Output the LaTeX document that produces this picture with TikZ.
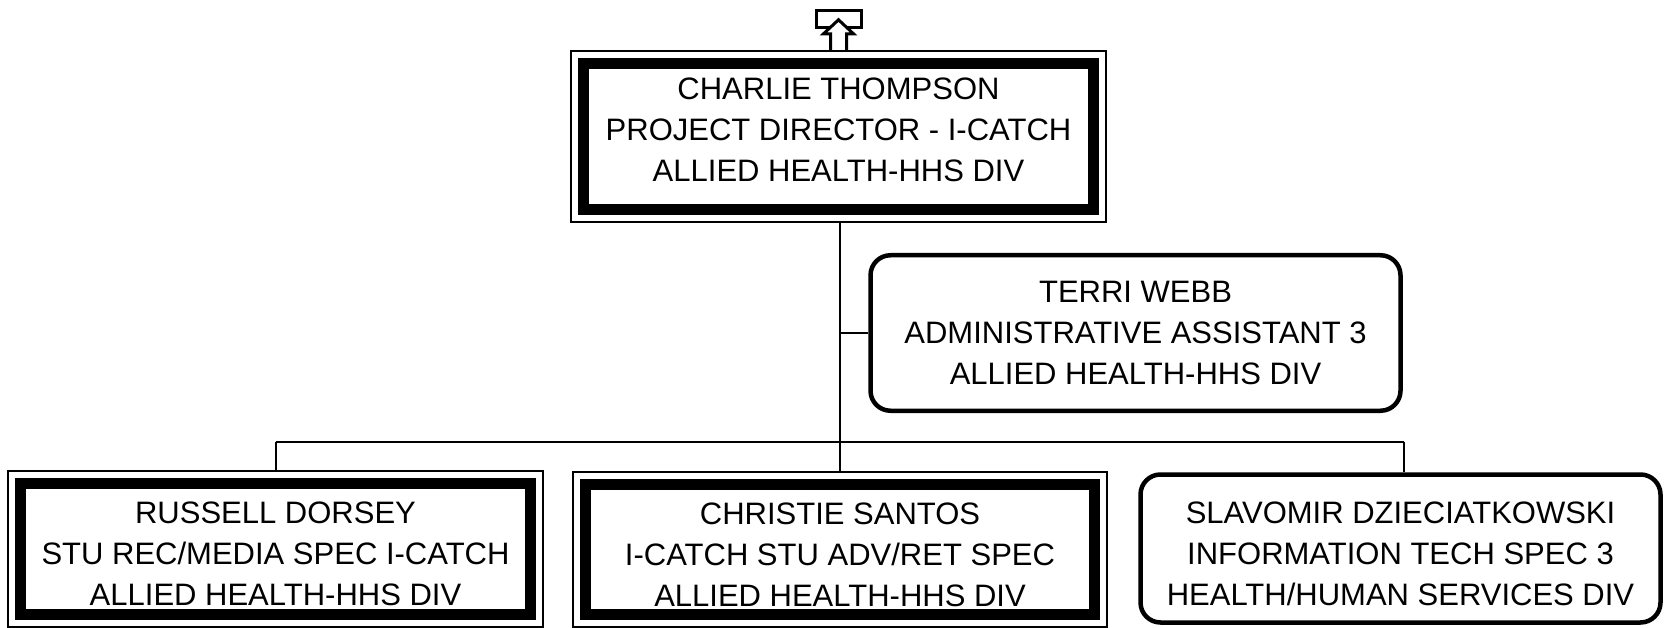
\documentclass[tikz,border=0pt]{standalone}
\usepackage{fontspec}
\setmainfont{Liberation Sans}
\begin{document}
\begin{tikzpicture}[x=1pt,y=-1pt,
  every node/.style={font=\fontsize{31pt}{41pt}\selectfont, align=center, inner sep=0pt},
  dblbox/.style={rectangle, fill=white, path picture={
    \draw[line width=2pt] ([shift={(1pt,-1pt)}]path picture bounding box.north west) rectangle ([shift={(-1pt,1pt)}]path picture bounding box.south east);
    \draw[line width=10.5pt] ([shift={(13.5pt,-13.5pt)}]path picture bounding box.north west) rectangle ([shift={(-13.5pt,13.5pt)}]path picture bounding box.south east);
  }},
  roundbox/.style={rectangle, draw, fill=white, line width=4.5pt, rounded corners=20pt},
  conn/.style={line width=2pt},
  marker/.style={line width=3pt, fill=white, line join=miter}]
\useasboundingbox (0,0) rectangle (1665,628);

\node[dblbox, minimum width=537pt, minimum height=173pt] (top) at (838.5,136.5) {};
\node (toptext) at ([yshift=7pt]top.center)
  {CHARLIE THOMPSON\\PROJECT DIRECTOR - I-CATCH\\ALLIED HEALTH-HHS DIV};
\node[roundbox, minimum width=530pt, minimum height=155.5pt] (terri) at (1135.5,333)
  {TERRI WEBB\\ADMINISTRATIVE ASSISTANT 3\\ALLIED HEALTH-HHS DIV};
\node[dblbox, minimum width=537pt, minimum height=158pt] (b1) at (275.5,549) {};
\node (b1text) at ([yshift=-5pt]b1.center)
  {RUSSELL DORSEY\\STU REC/MEDIA SPEC I-CATCH\\ALLIED HEALTH-HHS DIV};
\node[dblbox, minimum width=536pt, minimum height=157pt] (b2) at (840,549.5) {};
\node (b2text) at ([yshift=-5pt]b2.center)
  {CHRISTIE SANTOS\\I-CATCH STU ADV/RET SPEC\\ALLIED HEALTH-HHS DIV};
\node[roundbox, minimum width=520pt, minimum height=148pt] (b3) at (1400.5,548.5) {};
\node (b3text) at ([yshift=-5pt]b3.center)
  {SLAVOMIR DZIECIATKOWSKI\\INFORMATION TECH SPEC 3\\HEALTH/HUMAN SERVICES DIV};

\coordinate (hl) at (275.5,442);
\coordinate (hr) at (1404,442);
\draw[conn] (top.south -| b2.north) -- (b2.north);
\draw[conn] (terri.west -| b2.north) -- (terri.west);
\draw[conn] (hl) -- (hr);
\draw[conn] (hl) -- (b1.north);
\draw[conn] (hr) -- (hr |- b3.north);

\begin{scope}[shift={(top.north)}]
  \draw[marker] (-22.5,-39.5) rectangle (22.5,-22.5);
  \draw[marker] (-8,0) -- (-8,-16) -- (-15,-16) -- (0,-30) -- (15,-16) -- (8,-16) -- (8,0);
\end{scope}
\end{tikzpicture}
\end{document}
